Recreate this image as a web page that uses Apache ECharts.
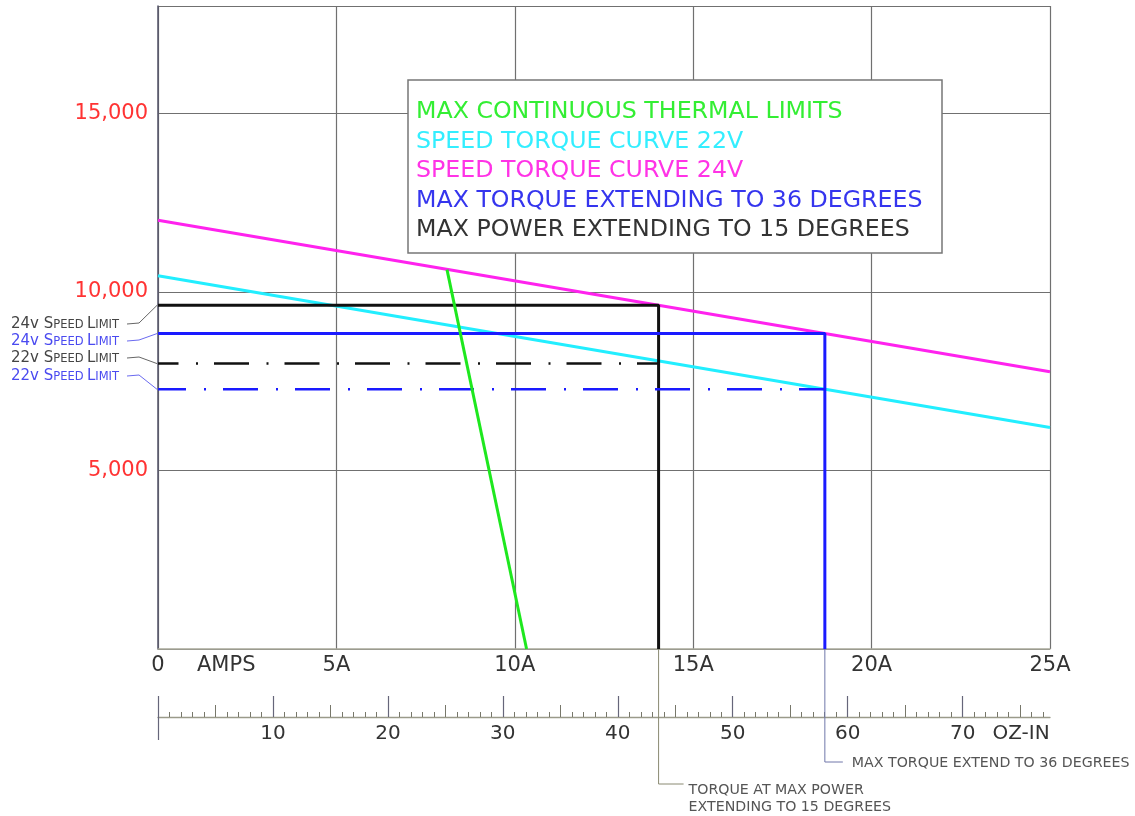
<!DOCTYPE html>
<html><head><meta charset="utf-8">
<script src="https://cdn.jsdelivr.net/npm/echarts@6/dist/echarts.min.js"></script>
<style>html,body{margin:0;padding:0;background:#fff}#c{width:1135px;height:816px}</style>
</head><body><div id="c"></div>
<script>
// ---- data ----
const ampTicks = [0, 5, 10, 15, 20, 25];
const speedTicks = [5000, 10000, 15000];
const ozLabels = [10, 20, 30, 40, 50, 60, 70];
const ozMinor = [0,1,2,3,4,5,6,7,8,9,10,11,12,13,14,15,16,17,18,19,20,21,22,23,24,25,26,27,28,29,30,31,32,33,34,35,36,37,38,39,40,41,42,43,44,45,46,47,48,49,50,51,52,53,54,55,56,57,58,59,60,61,62,63,64,65,66,67,68,69,70,71,72,73,74,75,76,77];
const ozMid = [5, 15, 25, 35, 45, 55, 65, 75];
const ozMajor = [0, 10, 20, 30, 40, 50, 60, 70];
const OZ_AT_25A = 77.6;

const thermal = [[8.1, 10620], [10.33, 0]];
const curve22 = [[0, 10450], [25, 6200]];
const curve24 = [[0, 12000], [25, 7760]];
const maxTorque = [[0, 8830], [18.69, 8830], [18.69, 0]];
const maxPower = [[0, 9620], [14.03, 9620], [14.03, 0]];
const limit22Power = [[0, 7990], [14.03, 7990]];
const limit22Torque = [[0, 7270], [18.69, 7270]];

const legendNames = [
  'MAX CONTINUOUS THERMAL LIMITS',
  'SPEED TORQUE CURVE 22V',
  'SPEED TORQUE CURVE 24V',
  'MAX TORQUE EXTENDING TO 36 DEGREES',
  'MAX POWER EXTENDING TO 15 DEGREES'
];

const FONT = 'DejaVu Sans';
const C = {
  green: '#1ee81e', cyan: '#22eeff', magenta: '#ff22ee', blue: '#1a1aff', black: '#111111',
  grid: '#707070', red: '#ff3333', text: '#333333', lblue: '#4a4af0', lgray: '#444444'
};

const chart = echarts.init(document.getElementById('c'), null, {renderer: 'canvas'});

const ozAxisBase = {
  gridIndex: 1, type: 'value', min: 0, max: OZ_AT_25A, position: 'bottom',
  splitLine: {show: false}, axisLabel: {show: false}, axisLine: {show: false}
};

const option = {
  animation: false,
  backgroundColor: '#ffffff',
  textStyle: {fontFamily: FONT},
  grid: [
    {left: 158, top: 6, width: 892, height: 643},
    {left: 158, top: 697, width: 892, height: 20}
  ],
  legend: {
    orient: 'vertical', left: 411, top: 80, padding: [19, 10, 10, 0],
    itemWidth: 0, itemHeight: 0, itemGap: 3.5, icon: 'rect', selectedMode: false, z: 5,
    textStyle: {fontSize: 23.7, lineHeight: 26, fontFamily: FONT},
    data: [
      {name: legendNames[0], textStyle: {color: '#33ee33'}},
      {name: legendNames[1], textStyle: {color: '#33eeff'}},
      {name: legendNames[2], textStyle: {color: '#ff33e6'}},
      {name: legendNames[3], textStyle: {color: '#3535ee'}},
      {name: legendNames[4], textStyle: {color: '#333333'}}
    ]
  },
  xAxis: [
    {
      gridIndex: 0, type: 'value', min: ampTicks[0], max: ampTicks[ampTicks.length - 1], interval: 5,
      axisLine: {show: true, onZero: false, lineStyle: {color: '#a9a99a', width: 1.5}},
      axisTick: {show: false},
      axisLabel: {color: C.text, fontSize: 21, fontFamily: FONT, margin: 6, showMaxLabel: true, showMinLabel: true,
        formatter: v => (v === 0 ? '0' : v + 'A')},
      splitLine: {show: true, lineStyle: {color: C.grid, width: 1.2}}
    },
    Object.assign({}, ozAxisBase, {
      axisLine: {show: true, lineStyle: {color: '#9a9a8a', width: 1.3}},
      axisTick: {show: true, inside: true, length: 5, customValues: ozMinor, lineStyle: {color: '#77776a', width: 1}},
      axisLabel: {show: true, customValues: ozLabels, color: C.text, fontSize: 20, fontFamily: FONT, margin: 7,
        formatter: v => (v > 0 && v % 10 === 0 && v <= 70 ? String(v) : '')}
    }),
    Object.assign({}, ozAxisBase, {
      axisTick: {show: true, inside: true, length: 12, customValues: ozMid, lineStyle: {color: '#77776a', width: 1}}
    }),
    Object.assign({}, ozAxisBase, {
      axisTick: {show: true, inside: true, length: 21, customValues: ozMajor, lineStyle: {color: '#66667a', width: 1.2}}
    }),
    Object.assign({}, ozAxisBase, {
      axisTick: {show: true, inside: false, length: 23, customValues: [0], lineStyle: {color: '#66667a', width: 1.2}}
    })
  ],
  yAxis: [
    {
      gridIndex: 0, type: 'value', min: 0, max: 18000, interval: 5000,
      axisLine: {show: true, onZero: false, lineStyle: {color: '#55556a', width: 1.5}},
      axisTick: {show: false},
      axisLabel: {color: C.red, fontSize: 21, fontFamily: FONT, margin: 10,
        formatter: v => (speedTicks.indexOf(v) >= 0 ? v.toLocaleString('en-US') : '')},
      splitLine: {show: true, lineStyle: {color: C.grid, width: 1.2}}
    },
    {gridIndex: 1, type: 'value', min: 0, max: 1, show: false}
  ],
  series: [
    {name: legendNames[1], type: 'line', data: curve22, symbol: 'none', silent: true, z: 2,
      lineStyle: {color: C.cyan, width: 3}},
    {name: legendNames[2], type: 'line', data: curve24, symbol: 'none', silent: true, z: 2,
      lineStyle: {color: C.magenta, width: 3}},
    {name: legendNames[4], type: 'line', data: maxPower, symbol: 'none', silent: true, z: 3,
      lineStyle: {color: C.black, width: 3}},
    {name: legendNames[3], type: 'line', data: maxTorque, symbol: 'none', silent: true, z: 3,
      lineStyle: {color: C.blue, width: 3}},
    {name: '22V SPEED LIMIT (POWER)', type: 'line', data: limit22Power, symbol: 'none', silent: true, z: 3,
      lineStyle: {color: C.black, width: 2.5, type: [35, 17.5, 2, 16], dashOffset: 14.5}},
    {name: '22V SPEED LIMIT (TORQUE)', type: 'line', data: limit22Torque, symbol: 'none', silent: true, z: 3,
      lineStyle: {color: C.blue, width: 2.5, type: [35, 18, 2, 17], dashOffset: 7}},
    {name: legendNames[0], type: 'line', data: thermal, symbol: 'none', silent: true, z: 4,
      lineStyle: {color: C.green, width: 3}}
  ]
};
chart.setOption(option);

// ---- annotations positioned through the axes ----
const px = (x, y) => chart.convertToPixel({xAxisIndex: 0, yAxisIndex: 0}, [x, y]);
const g = [];
g.push({type: 'rect', z: 4, silent: true, shape: {x: 408, y: 80, width: 534, height: 173},
  style: {fill: '#ffffff', stroke: '#777777', lineWidth: 1.5}});

const o = px(0, 0);
g.push({type: 'text', z: 6, silent: true, style: {x: o[0] + 39, y: o[1] + 17, text: 'AMPS', fill: C.text,
  font: '21px "' + FONT + '"', verticalAlign: 'middle'}});

const ozOrigin = chart.convertToPixel({xAxisIndex: 1, yAxisIndex: 1}, [0, 0]);
const ozName = chart.convertToPixel({xAxisIndex: 1, yAxisIndex: 1}, [72.6, 0]);
g.push({type: 'text', z: 6, silent: true, style: {x: ozName[0], y: ozOrigin[1] + 17, text: 'OZ-IN', fill: C.text,
  font: '20px "' + FONT + '"', verticalAlign: 'middle'}});

// left speed-limit labels with leaders
const speedLabels = [
  {t: '24v', y: 324, color: C.lgray, lc: '#666666', target: maxPower[0]},
  {t: '24v', y: 341, color: C.lblue, lc: '#6a6af0', target: maxTorque[0]},
  {t: '22v', y: 358, color: C.lgray, lc: '#666666', target: limit22Power[0]},
  {t: '22v', y: 376, color: C.lblue, lc: '#6a6af0', target: limit22Torque[0]}
];
speedLabels.forEach(s => {
  const p = px(s.target[0], s.target[1]);
  g.push({type: 'text', z: 6, silent: true, style: {
    x: 11, y: s.y, text: '{b|' + s.t + ' S}{s|PEED} {b|L}{s|IMIT}', verticalAlign: 'middle',
    rich: {
      b: {fontSize: 15, lineHeight: 15, fill: s.color, fontFamily: FONT, verticalAlign: 'bottom'},
      s: {fontSize: 11.5, lineHeight: 11.5, fill: s.color, fontFamily: FONT, verticalAlign: 'bottom'}
    }}});
  g.push({type: 'polyline', z: 6, silent: true, shape: {points: [[127, s.y], [139, s.y - 1], [p[0] - 1, p[1]]]},
    style: {stroke: s.lc, lineWidth: 1, fill: null}});
});

// bottom leaders
const pw = px(maxPower[1][0], 0);
g.push({type: 'polyline', z: 6, silent: true, shape: {points: [[pw[0], pw[1]], [pw[0], 784], [pw[0] + 25, 784]]},
  style: {stroke: '#8a8a72', lineWidth: 1, fill: null}});
g.push({type: 'text', z: 6, silent: true, style: {x: pw[0] + 30, y: 790, text: 'TORQUE AT MAX POWER',
  fill: '#555555', font: '14.2px "' + FONT + '"', verticalAlign: 'middle'}});
g.push({type: 'text', z: 6, silent: true, style: {x: pw[0] + 30, y: 807, text: 'EXTENDING TO 15 DEGREES',
  fill: '#555555', font: '14.2px "' + FONT + '"', verticalAlign: 'middle'}});

const tq = px(maxTorque[1][0], 0);
g.push({type: 'polyline', z: 6, silent: true, shape: {points: [[tq[0], tq[1]], [tq[0], 762], [tq[0] + 18, 762]]},
  style: {stroke: '#7077aa', lineWidth: 1, fill: null}});
g.push({type: 'text', z: 6, silent: true, style: {x: tq[0] + 27, y: 763, text: 'MAX TORQUE EXTEND TO 36 DEGREES',
  fill: '#555555', font: '14.2px "' + FONT + '"', verticalAlign: 'middle'}});

chart.setOption({graphic: g});
</script></body></html>
